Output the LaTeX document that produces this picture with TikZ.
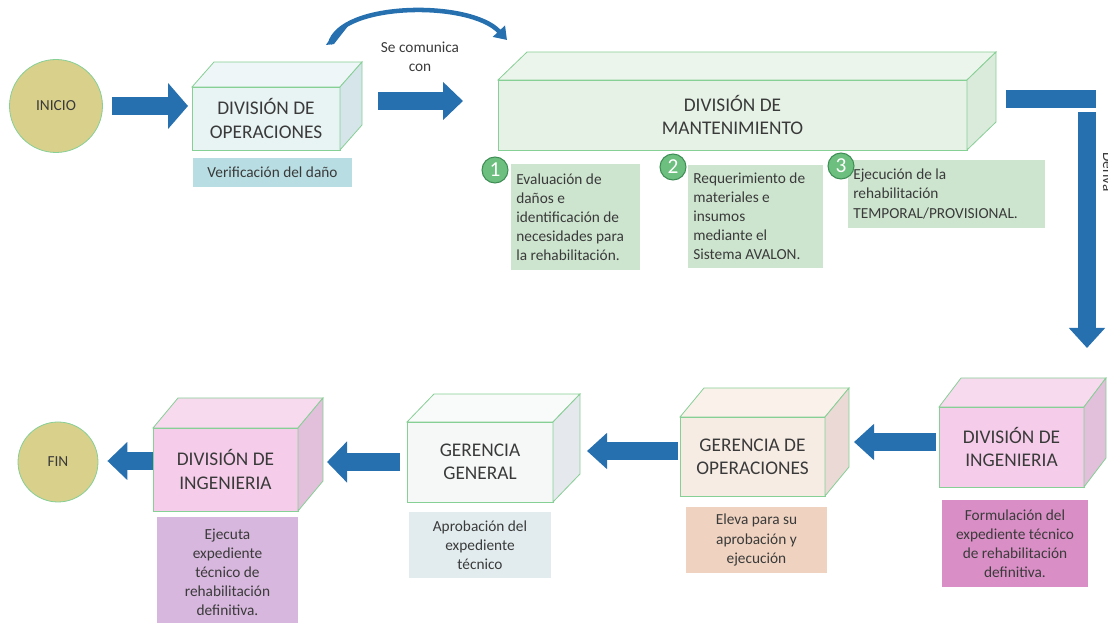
\documentclass[tikz,border=0pt]{standalone}
\usepackage{fontspec}
\setmainfont{Carlito}
\usetikzlibrary{arrows.meta,calc}
\definecolor{arrowblue}{HTML}{2670B0}
\definecolor{boxedge}{HTML}{86CF95}
\definecolor{textgray}{HTML}{3A3A3A}
\definecolor{khaki}{HTML}{D9D08C}
\definecolor{opfront}{HTML}{E8F3F4}
\definecolor{optop}{HTML}{EEF6F7}
\definecolor{opside}{HTML}{D5E5EA}
\definecolor{verif}{HTML}{B8DDE2}
\definecolor{mafront}{HTML}{E6F2E6}
\definecolor{matop}{HTML}{ECF5EC}
\definecolor{maside}{HTML}{DAEADB}
\definecolor{numbox}{HTML}{CDE5CF}
\definecolor{numcirc}{HTML}{6CBF7E}
\definecolor{numedge}{HTML}{3E8E55}
\definecolor{pkfront}{HTML}{F5CDEA}
\definecolor{pktop}{HTML}{F8DAEF}
\definecolor{pkside}{HTML}{E2C0DC}
\definecolor{ejecuta}{HTML}{D7B7DD}
\definecolor{ggfront}{HTML}{F6F8F8}
\definecolor{ggtop}{HTML}{F9FAFA}
\definecolor{ggside}{HTML}{E5E8EC}
\definecolor{aprob}{HTML}{E2ECEE}
\definecolor{gofront}{HTML}{F7ECE4}
\definecolor{gotop}{HTML}{FAF1EB}
\definecolor{goside}{HTML}{EAD9D5}
\definecolor{eleva}{HTML}{EFD3C0}
\definecolor{formul}{HTML}{D98FC6}
\newcommand\cubefaces[5]{%
  \draw[edge, fill=#4] (#1.north west) -- ++(#2,#3) -- ($(#1.north east)+(#2,#3)$) -- (#1.north east) -- cycle;
  \draw[edge, fill=#5] (#1.north east) -- ++(#2,#3) -- ($(#1.south east)+(#2,#3)$) -- (#1.south east) -- cycle;}
\begin{document}
\begin{tikzpicture}[x=0.75pt,y=-0.75pt,
  edge/.style={draw=boxedge, line width=0.6pt},
  face/.style={edge, rectangle, inner sep=0pt, outer sep=0pt, align=center,
    font=\fontsize{14.5}{17.5}\selectfont, text=textgray},
  note/.style={rectangle, inner sep=0pt, outer sep=0pt, align=center,
    font=\fontsize{11.5}{14.3}\selectfont, text=textgray},
  numnote/.style={note, align=flush left, inner xsep=4pt},
  endcircle/.style={circle, draw=boxedge, line width=0.6pt, fill=khaki, inner sep=0pt,
    font=\fontsize{11.5}{14}\selectfont, text=textgray},
  numcircle/.style={circle, draw=numedge, line width=0.8pt, fill=numcirc, inner sep=0pt,
    minimum size=19.5pt, text=white, font=\fontsize{16}{16}\selectfont},
  blockarrow/.style={draw=arrowblue, line width=13.5pt, -{Triangle[length=15pt,width=#1]}},
  blockarrow/.default=28pt,
  blockbar/.style={draw=arrowblue, line width=13.5pt},
]
\useasboundingbox (0,0) rectangle (1108,623);

% ---- top row ----
\node[endcircle, minimum size=69.75pt] (inicio) at (56,106) {INICIO};

\node[face, fill=opfront, minimum width=111pt, minimum height=47.25pt] (divop) at (266,118.5) {DIVISIÓN DE\\OPERACIONES};
\cubefaces{divop}{22}{-25}{optop}{opside}
\node[note, fill=verif, minimum width=119.25pt, minimum height=21.75pt] (verif) at (272.5,172.5) {Verificación del daño};

\node[face, fill=mafront, minimum width=351.75pt, minimum height=52.5pt] (mant) at (732.5,115) {DIVISIÓN DE\\MANTENIMIENTO};
\cubefaces{mant}{29}{-28}{matop}{maside}

\node[note, align=center] (lblcom) at (420,57) {Se comunica\\con};

\node[numnote, fill=numbox, text width=88.75pt, minimum height=79.5pt] (n1) at (575.5,217) {Evaluación de\\daños e\\identificación de\\necesidades para\\la rehabilitación.};
\node[numnote, fill=numbox, text width=93.25pt, minimum height=77.25pt] (n2) at (755.5,216.5) {Requerimiento de\\materiales e\\insumos\\mediante el\\Sistema AVALON.};
\node[numnote, fill=numbox, text width=139.75pt, minimum height=51pt] (n3) at (946.5,194) {Ejecución de la\\rehabilitación\\TEMPORAL/PROVISIONAL.};
\node[numcircle] (c1) at (495,170) {1};
\node[numcircle] (c2) at (673,167) {2};
\node[numcircle] (c3) at (841,166) {3};

\node[note, rotate=-90, anchor=base] (lblderiva) at (1103,172) {Deriva};

% ---- bottom row ----
\node[endcircle, minimum size=60pt] (fin) at (58,462) {FIN};

\node[face, fill=pkfront, minimum width=108.75pt, minimum height=62.25pt] (dingL) at (225.5,469.5) {DIVISIÓN DE\\INGENIERIA};
\cubefaces{dingL}{25}{-30}{pktop}{pkside}
\node[note, fill=ejecuta, minimum width=105.75pt, minimum height=83.25pt] (ejec) at (227.5,572.5) {Ejecuta\\expediente\\técnico de\\rehabilitación\\definitiva.};

\node[face, fill=ggfront, minimum width=109.5pt, minimum height=60pt] (gergen) at (480,462) {GERENCIA\\GENERAL};
\cubefaces{gergen}{27}{-28}{ggtop}{ggside}
\node[note, fill=aprob, minimum width=106.5pt, minimum height=49.5pt] (aprob) at (480,545) {Aprobación del\\expediente\\técnico};

\node[face, fill=gofront, minimum width=108.75pt, minimum height=59.25pt] (gerop) at (752.5,456.5) {GERENCIA DE\\OPERACIONES};
\cubefaces{gerop}{24}{-29}{gotop}{goside}
\node[note, fill=eleva, minimum width=105.75pt, minimum height=49.5pt] (eleva) at (756.5,540) {Eleva para su\\aprobación y\\ejecución};

\node[face, fill=pkfront, minimum width=108.75pt, minimum height=60pt] (dingR) at (1011.5,447) {DIVISIÓN DE\\INGENIERIA};
\cubefaces{dingR}{22}{-29}{pktop}{pkside}
\node[note, fill=formul, minimum width=109.5pt, minimum height=65.25pt] (formul) at (1015,543.5) {Formulación del\\expediente técnico\\de rehabilitación\\definitiva.};

% ---- connectors ----
\draw[blockarrow=33.75pt, shorten <=7pt, shorten >=3pt] (inicio.east) -- (inicio.east -| divop.west);
\draw[blockarrow=27.75pt] ([shift={(38,-17.5)}]divop.east) -- ([shift={(-35,-14)}]mant.west);
\draw[draw=arrowblue, line width=3.4pt, -{Triangle[length=9pt,width=12pt]}]
  ([shift={(-10,-43)}]divop.north east) .. controls (340,2) and (470,0) .. ([shift={(9,-40)}]mant.north west);
\fill[arrowblue] ([shift={(-14,-42)}]divop.north east) .. controls (-14+340,-44+87) and (345,24) .. ([shift={(12,-66)}]divop.north east)
  -- ([shift={(-6,-43)}]divop.north east) -- cycle;

\coordinate (corner) at (1087,99);
\draw[blockbar] ([shift={(39,-16)}]mant.east) -- ([xshift=6.75pt]corner);
\draw[blockarrow=26.25pt] ([yshift=-10pt]corner) -- ([shift={(3,-59)}]dingR.north east);

\draw[blockarrow=26.25pt] ([shift={(-3,-5)}]dingR.west) -- ([shift={(29,-14.5)}]gerop.east);
\draw[blockarrow=26.25pt] ([shift={(-2,-5.5)}]gerop.west) -- ([shift={(34,-11)}]gergen.east);
\draw[blockarrow=30pt] ([shift={(-7,0)}]gergen.west) -- ([shift={(29,-7.5)}]dingL.east);
\draw[blockarrow=27.75pt] ([shift={(0,-8.5)}]dingL.west) -- ([shift={(9,-1)}]fin.east);
\end{tikzpicture}
\end{document}
